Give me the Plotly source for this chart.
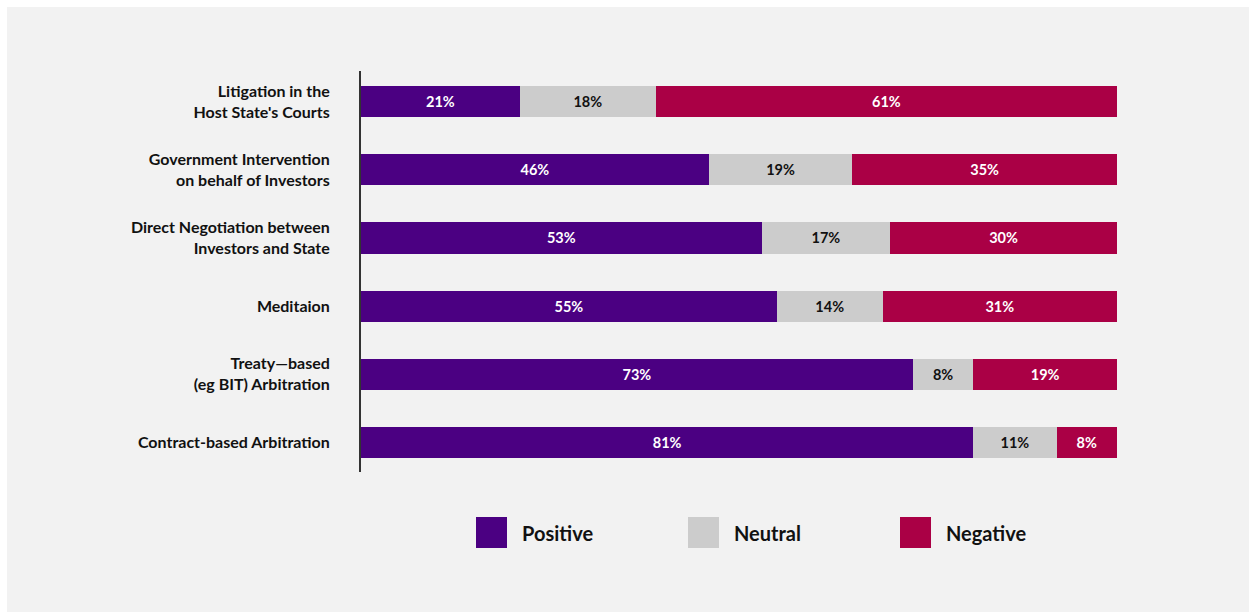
import plotly.graph_objects as go

# Survey results: perceived effectiveness of dispute-resolution routes (%)
categories = [
    "Litigation in the<br>Host State's Courts",
    "Government Intervention<br>on behalf of Investors",
    "Direct Negotiation between<br>Investors and State",
    "Meditaion",
    "Treaty\u2014based<br>(eg BIT) Arbitration",
    "Contract-based Arbitration",
]
positive = [21, 46, 53, 55, 73, 81]
neutral = [18, 19, 17, 14, 8, 11]
negative = [61, 35, 30, 31, 19, 8]

series_names = ["Positive", "Neutral", "Negative"]
series_values = [positive, neutral, negative]
series_colors = ["#4b0082", "#cccccc", "#aa0045"]
label_colors = ["#ffffff", "#111111", "#ffffff"]

FONT = "Lato"
W, H = 1250, 614
# plot area in pixels
PX0, PX1 = 361, 1117
PY0, PY1 = 71, 472


def px_x(px):
    return (px - PX0) / (PX1 - PX0)


def px_y(py):
    return (PY1 - py) / (PY1 - PY0)


fig = go.Figure()
for name, vals, col, tcol in zip(series_names, series_values, series_colors, label_colors):
    fig.add_trace(go.Bar(
        y=categories,
        x=vals,
        name=name,
        orientation="h",
        marker=dict(color=col, line=dict(width=0)),
        text=[f"{v}%" for v in vals],
        textposition="inside",
        insidetextanchor="middle",
        constraintext="none",
        textfont=dict(family=FONT, size=14.5, color=tcol, weight="bold"),
        showlegend=False,
        hoverinfo="skip",
    ))

shapes = []
# white outer frame around the grey panel
for x0, x1, y0, y1 in [
    (0, 7, 0, H), (W - 1, W, 0, H), (0, W, 0, 7), (0, W, H - 2, H)
]:
    shapes.append(dict(type="rect", xref="paper", yref="paper",
                       x0=px_x(x0), x1=px_x(x1), y0=px_y(y1), y1=px_y(y0),
                       fillcolor="#ffffff", line=dict(width=0), layer="above"))

# custom legend with large square swatches
annotations = []
leg_x0, leg_step, sw = 476, 212, 31
leg_y0 = 517
for i, (name, col) in enumerate(zip(series_names, series_colors)):
    sx = leg_x0 + i * leg_step
    shapes.append(dict(type="rect", xref="paper", yref="paper",
                       x0=px_x(sx), x1=px_x(sx + sw),
                       y0=px_y(leg_y0 + sw), y1=px_y(leg_y0),
                       fillcolor=col, line=dict(width=0)))
    annotations.append(dict(xref="paper", yref="paper",
                            x=px_x(sx + sw + 13), y=px_y(leg_y0 + sw / 2),
                            xanchor="left", yanchor="middle", showarrow=False,
                            text=name,
                            font=dict(family=FONT, size=20, color="#111111", weight="bold")))

fig.update_layout(
    width=W, height=H,
    barmode="stack",
    bargap=1 - 31 / 68,
    paper_bgcolor="#f2f2f2",
    plot_bgcolor="#f2f2f2",
    margin=dict(l=PX0, r=W - PX1, t=PY0, b=H - PY1, pad=0),
    xaxis=dict(range=[0, 100], visible=False, fixedrange=True),
    yaxis=dict(
        autorange=False,
        range=[len(categories) - 1 + 0.44, -0.455],
        categoryorder="array",
        categoryarray=categories,
        showline=True, linecolor="#333333", linewidth=2,
        showgrid=False, zeroline=False,
        ticks="", ticklabelstandoff=26,
        tickfont=dict(family=FONT, size=16, color="#111111", weight="bold"),
        fixedrange=True,
    ),
    uniformtext=dict(mode=False),
    shapes=shapes,
    annotations=annotations,
)

fig.write_html("out.html", config={"displayModeBar": False})
